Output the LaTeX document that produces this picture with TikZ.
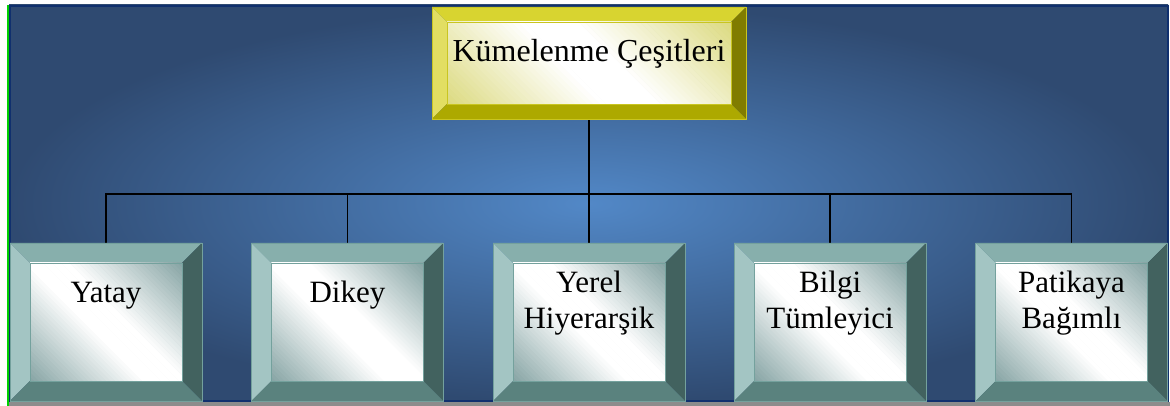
\documentclass[tikz,border=0pt]{standalone}
\usepackage{fontspec}
\setmainfont{Liberation Serif}
\usetikzlibrary{calc}

% background and frame
\definecolor{bgin}{HTML}{5288C7}
\definecolor{bgout}{HTML}{2F4A71}
\definecolor{frameblue}{HTML}{10306E}
\definecolor{framegreen}{HTML}{00D000}
\definecolor{basegray}{HTML}{8C8C8C}
% teal bevelled boxes
\definecolor{tleft}{HTML}{A3C5C3}
\definecolor{ttop}{HTML}{87AFAC}
\definecolor{tright}{HTML}{42625F}
\definecolor{tbottom}{HTML}{5A827E}
\definecolor{tface}{HTML}{86A4A4}
\definecolor{tedge}{HTML}{74A19D}
% yellow bevelled box
\definecolor{yleft}{HTML}{E2DE62}
\definecolor{ytop}{HTML}{D8D430}
\definecolor{yright}{HTML}{807C00}
\definecolor{ybottom}{HTML}{ADA900}
\definecolor{yface}{HTML}{DCDA80}
\definecolor{yedge}{HTML}{C9C521}

% #1 node, #2 bevel depth, #3 palette prefix, #4 half extent of the face along its diagonal
\newcommand{\bevelbox}[4]{%
  \fill[#3left] (#1.north west) -- ($(#1.north west)+(#2,-#2)$) -- ($(#1.south west)+(#2,#2)$) -- (#1.south west) -- cycle;
  \fill[#3top] (#1.north west) -- (#1.north east) -- ($(#1.north east)+(-#2,-#2)$) -- ($(#1.north west)+(#2,-#2)$) -- cycle;
  \fill[#3right] (#1.north east) -- (#1.south east) -- ($(#1.south east)+(-#2,#2)$) -- ($(#1.north east)+(-#2,-#2)$) -- cycle;
  \fill[#3bottom] (#1.south west) -- (#1.south east) -- ($(#1.south east)+(-#2,#2)$) -- ($(#1.south west)+(#2,#2)$) -- cycle;
  \begin{scope}
    \clip ($(#1.north west)+(#2,-#2)$) rectangle ($(#1.south east)+(-#2,#2)$);
    \begin{scope}[shift={(#1.center)}, rotate=45]
      \foreach \k in {0,...,59} {
        \pgfmathsetmacro\tm{abs((\k+0.5)/30-1)}
        \pgfmathsetmacro\pc{100*max(0,min(1,(\tm-0.15)/0.85))}
        \fill[#3face!\pc!white] ({(\k/30-1)*#4pt}, {-1.3*#4pt}) rectangle ({((\k+1)/30-1)*#4pt+0.6pt}, {1.3*#4pt});
      }
    \end{scope}
  \end{scope}
  \draw[#3edge, line width=0.8pt] (#1.north west) rectangle (#1.south east);
  \draw[#3edge, line width=0.8pt] ($(#1.north west)+(#2,-#2)$) rectangle ($(#1.south east)+(-#2,#2)$);
}

\tikzset{
  box/.style={minimum width=192pt, minimum height=158pt, inner sep=0pt, outer sep=0pt},
  topbox/.style={minimum width=314pt, minimum height=112pt, inner sep=0pt, outer sep=0pt},
  lbl/.style={font=\fontsize{31}{36}\selectfont, inner sep=0pt, anchor=base, text=black},
  toplbl/.style={font=\fontsize{32}{38}\selectfont, inner sep=0pt, anchor=base, text=black},
  wire/.style={black, line width=1.6pt},
}

\begin{document}
\begin{tikzpicture}[x=1pt, y=1pt]
\useasboundingbox (0,0) rectangle (1170,406);
\fill[white] (0,0) rectangle (1170,406);
\fill[basegray] (9,0) rectangle (1170,3.5);
\shade[inner color=bgin, outer color=bgout] (9,4) rectangle (1168,401);
\draw[frameblue, line width=2pt] (10,5) rectangle (1168,400);
\draw[framegreen, line width=1.5pt] (8,0) -- (8,401);

% layout of the boxes
\node[topbox] (top) at (589,343) {};
\node[box] (b1) at (106,84) {};
\node[box] (b2) at (347.4,84) {};
\node[box] (b3) at (589,84) {};
\node[box] (b4) at (830.1,84) {};
\node[box] (b5) at (1071.5,84) {};
\coordinate (bus) at (589,212);

% connectors
\draw[wire] (top.south) -- (b3.north);
\draw[wire] (b1.north) |- (bus) -| (b5.north);
\draw[wire] (b2.north) -- (b2.north |- bus);
\draw[wire] (b4.north) -- (b4.north |- bus);

% bevelled boxes
\bevelbox{top}{15}{y}{129.4}
\bevelbox{b1}{20}{t}{95.5}
\bevelbox{b2}{20}{t}{95.5}
\bevelbox{b3}{20}{t}{95.5}
\bevelbox{b4}{20}{t}{95.5}
\bevelbox{b5}{20}{t}{95.5}

% labels
\node[toplbl] (t0) at ($(top.center)+(0,1)$) {Kümelenme Çeşitleri};
\node[lbl] (t1) at ($(b1.center)+(0,19)$) {Yatay};
\node[lbl] (t2) at ($(b2.center)+(0,19)$) {Dikey};
\node[lbl] (t3a) at ($(b3.center)+(0,29.5)$) {Yerel};
\node[lbl] (t3b) at ($(b3.center)+(0,-6.5)$) {Hiyerarşik};
\node[lbl] (t4a) at ($(b4.center)+(0,29.5)$) {Bilgi};
\node[lbl] (t4b) at ($(b4.center)+(0,-6.5)$) {Tümleyici};
\node[lbl] (t5a) at ($(b5.center)+(0,29.5)$) {Patikaya};
\node[lbl] (t5b) at ($(b5.center)+(0,-6.5)$) {Bağımlı};
\end{tikzpicture}
\end{document}
